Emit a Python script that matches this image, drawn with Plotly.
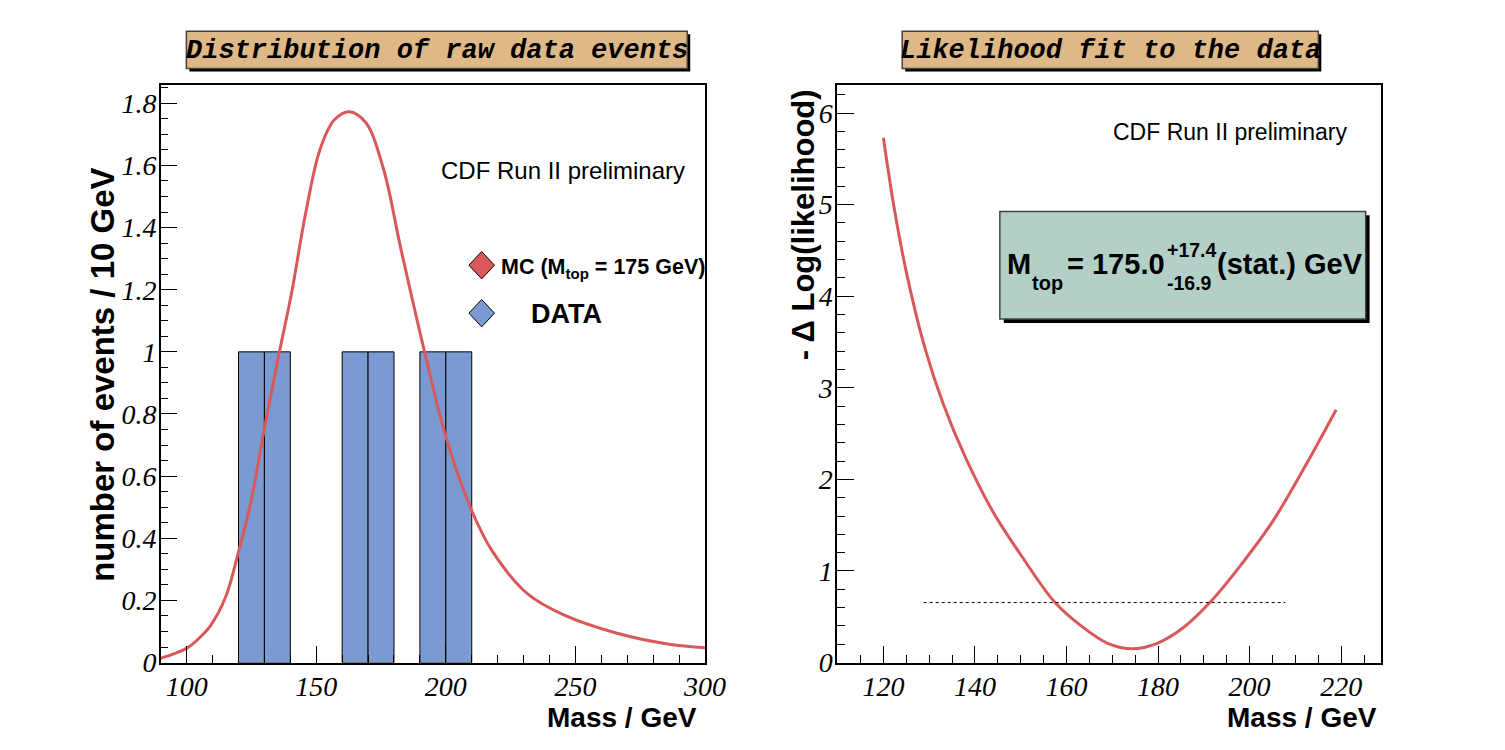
import plotly.graph_objects as go

# ---------------- data ----------------
bin_low = [120, 130, 160, 170, 190, 200]
bin_counts = [1, 1, 1, 1, 1, 1]
bin_width = 10

mc_mass = [90, 95, 100.4, 105, 109.3, 115, 120, 124.9, 130, 135.8, 140.5, 146,
           151.4, 156.9, 162.7, 169.1, 175.9, 182.7, 191.8, 200.1, 210.1, 218.1,
           231.7, 245.3, 265.7, 286.1, 300]
mc_value = [0.014, 0.028, 0.048, 0.08, 0.12, 0.21, 0.356, 0.52, 0.754, 1.0, 1.19, 1.45,
            1.65, 1.746, 1.773, 1.738, 1.59, 1.33, 1.0, 0.724, 0.487, 0.356,
            0.22, 0.154, 0.095, 0.059, 0.048]

lk_mass = [120, 122.3, 125.2, 129.1, 133.1, 138.1, 143.9, 150.3, 157.5, 163.2, 169,
           174.4, 179.8, 185.5, 191.3, 197.7, 204.9, 212.1, 218.9]
lk_value = [5.73, 4.98, 4.22, 3.43, 2.82, 2.22, 1.65, 1.155, 0.655, 0.40, 0.21,
            0.15, 0.21, 0.38, 0.655, 1.04, 1.53, 2.14, 2.76]

err_line_mass = [128.8, 207.8]
err_line_value = [0.655, 0.655]

left_xticks = [100, 150, 200, 250, 300]
right_xticks = [120, 140, 160, 180, 200, 220]

# ---------------- styles ----------------
W, H = 1505, 750
RED = "#d9585a"
BLUE = "#7b9ad2"
TICKFONT = dict(family="Liberation Serif", size=28, color="black", style="italic")
BOLD = dict(family="Liberation Sans", color="black", weight="bold")


def px(x):
    return x / W


def py(y):
    return 1 - y / H


fig = go.Figure()

fig.add_trace(go.Bar(
    x=[b + bin_width / 2 for b in bin_low], y=bin_counts, width=bin_width,
    marker=dict(color=BLUE, line=dict(color="black", width=1)),
    xaxis="x", yaxis="y", showlegend=False))

fig.add_trace(go.Scatter(
    x=mc_mass, y=mc_value, mode="lines", line=dict(color=RED, width=3, shape="spline"),
    xaxis="x", yaxis="y", showlegend=False))

fig.add_trace(go.Scatter(
    x=lk_mass, y=lk_value, mode="lines", line=dict(color=RED, width=3, shape="spline"),
    xaxis="x2", yaxis="y2", showlegend=False))

fig.add_trace(go.Scatter(
    x=err_line_mass, y=err_line_value, mode="lines",
    line=dict(color="black", width=1, dash="dot"),
    xaxis="x2", yaxis="y2", showlegend=False))

ydom = [py(677), py(86.5)]
axis_common = dict(showline=True, mirror=True, linecolor="black", linewidth=1.5,
                   showgrid=False, zeroline=False, ticks="inside", ticklen=17,
                   tickwidth=1, tickcolor="black", tickfont=TICKFONT)

fig.update_layout(
    width=W, height=H, autosize=False,
    margin=dict(l=0, r=0, t=0, b=0),
    paper_bgcolor="white", plot_bgcolor="white",
    barmode="overlay",
    xaxis=dict(domain=[px(163), px(715)], range=[90, 300], anchor="y",
               tickvals=left_xticks, ticklabelstandoff=-2,
               minor=dict(dtick=10, tick0=0, ticklen=8, ticks="inside", tickcolor="black"),
               **axis_common),
    yaxis=dict(domain=ydom, range=[0, 1.86], anchor="x", dtick=0.2, tick0=0,
               ticklabelstandoff=-3,
               minor=dict(dtick=0.05, tick0=0, ticklen=8, ticks="inside", tickcolor="black"),
               **axis_common),
    xaxis2=dict(domain=[px(849), px(1401)], range=[109.9, 228.8], anchor="y2",
                tickvals=right_xticks, ticklabelstandoff=-2,
                minor=dict(dtick=5, tick0=0, ticklen=8, ticks="inside", tickcolor="black"),
                **axis_common),
    yaxis2=dict(domain=ydom, range=[0, 6.31], anchor="x2", dtick=1, tick0=0,
                ticklabelstandoff=-3,
                minor=dict(dtick=0.2, tick0=0, ticklen=8, ticks="inside", tickcolor="black"),
                **axis_common),
)

shapes = []


def box(x0, y0, x1, y1, fill, shadow=3):
    shapes.append(dict(type="rect", xref="paper", yref="paper",
                       x0=px(x0 + shadow), x1=px(x1 + shadow), y0=py(y1 + shadow), y1=py(y0 + shadow),
                       fillcolor="black", line=dict(width=0), layer="above"))
    shapes.append(dict(type="rect", xref="paper", yref="paper",
                       x0=px(x0), x1=px(x1), y0=py(y1), y1=py(y0),
                       fillcolor=fill, line=dict(color="#444444", width=1.5), layer="above"))


def diamond(cx, cy, hw, hh, fill):
    path = (f"M {px(cx - hw)},{py(cy)} L {px(cx)},{py(cy - hh)} "
            f"L {px(cx + hw)},{py(cy)} L {px(cx)},{py(cy + hh)} Z")
    shapes.append(dict(type="path", xref="paper", yref="paper", path=path,
                       fillcolor=fill, line=dict(color="black", width=1), layer="above"))


box(189, 32, 697, 70, "#deb887")
box(915, 32, 1337, 70, "#deb887")
box(1014, 216, 1385, 326, "#b2d0c8", shadow=4)
diamond(488.5, 271, 13, 14, RED)
diamond(488.5, 320, 13, 14, BLUE)
fig.update_layout(shapes=shapes)

ann = []


def text(t, x, y, font, xanchor="center", yanchor="middle", angle=0):
    ann.append(dict(text=t, x=px(x), y=py(y), xref="paper", yref="paper",
                    xanchor=xanchor, yanchor=yanchor, showarrow=False,
                    font=font, textangle=angle, borderpad=0))


TITLEFONT = dict(family="Liberation Mono", size=27, color="black", weight="bold", style="italic")
text("Distribution of raw data events", 443, 52, TITLEFONT)
text("Likelihood fit to the data", 1126, 52, TITLEFONT)

CDF = dict(family="Liberation Sans", size=24, color="black")
text("CDF Run II preliminary", 696, 174, CDF, xanchor="right")
text("CDF Run II preliminary", 1367, 135, dict(CDF, size=23), xanchor="right")

text("MC (M<sub>top</sub> = 175 GeV)", 507, 274, dict(BOLD, size=21.5), xanchor="left")
text("DATA", 538, 321, dict(BOLD, size=27), xanchor="left")

text("M", 1020, 270, dict(BOLD, size=29), xanchor="left")
text("top", 1046, 289, dict(BOLD, size=20), xanchor="left")
text("= 175.0", 1182, 270, dict(BOLD, size=29), xanchor="right")
text("+17.4", 1182, 255, dict(BOLD, size=19.5), xanchor="left")
text("-16.9", 1182, 289, dict(BOLD, size=19.5), xanchor="left")
text("(stat.) GeV", 1233, 270, dict(BOLD, size=29), xanchor="left")

text("Mass / GeV", 708, 733, dict(BOLD, size=28), xanchor="right")
text("Mass / GeV", 1398, 733, dict(BOLD, size=28), xanchor="right")
text("number of events / 10 GeV", 104, 383.5, dict(BOLD, size=33), angle=-90)
text("- Δ Log(likelihood)", 815, 90, dict(BOLD, size=31), yanchor="top", angle=-90)

fig.update_layout(annotations=ann)

fig.write_html("out.html")
